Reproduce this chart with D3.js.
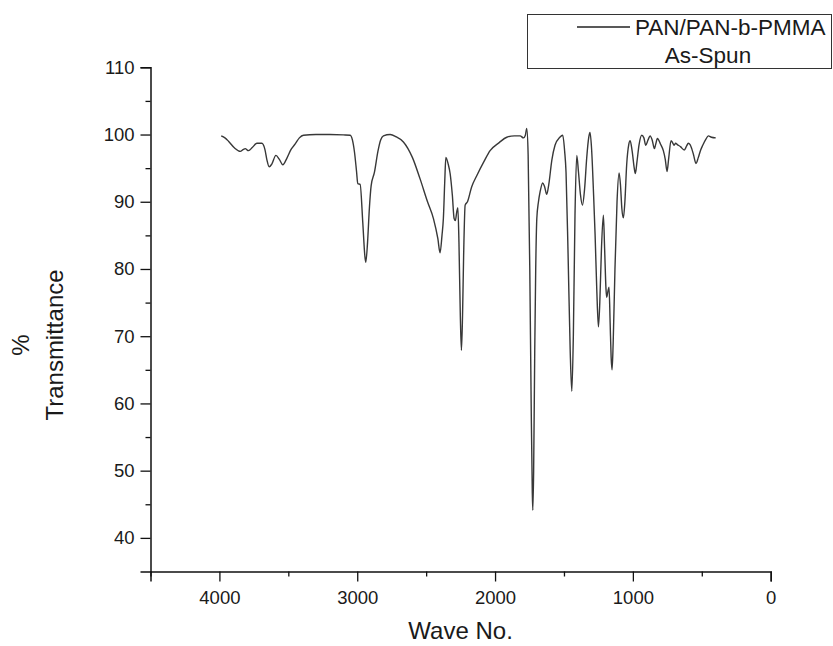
<!DOCTYPE html>
<html>
<head>
<meta charset="utf-8">
<script src="https://cdn.jsdelivr.net/npm/d3@7"></script>
<style>
  html, body { margin: 0; padding: 0; background: #fff; }
  svg { display: block; font-family: "Liberation Sans", Arial, sans-serif; }
</style>
</head>
<body>
<svg id="chart" width="833" height="646"></svg>
<script>
// FTIR spectrum: wavenumber (cm-1) and % transmittance
const waveNumbers = [3987,3960,3934,3890,3849,3825,3813,3789,3760,3728,3692,3670,3655,3639,3620,3590,3565,3540,3510,3480,3450,3420,3390,3300,3200,3100,3051,3035,3020,3005,2996,2979,2960,2945,2938,2925,2912,2899,2875,2850,2830,2810,2761,2720,2665,2600,2544,2490,2447,2415,2399,2385,2375,2365,2357,2340,2326,2310,2297,2288,2278,2270,2262,2252,2244,2236,2228,2217,2200,2170,2132,2080,2036,1970,1915,1860,1818,1794,1780,1770,1760,1748,1738,1730,1726,1720,1712,1705,1697,1685,1673,1654,1640,1625,1610,1588,1565,1530,1509,1495,1485,1470,1455,1443,1432,1420,1407,1395,1380,1366,1350,1335,1320,1311,1300,1285,1274,1262,1250,1240,1228,1214,1205,1195,1190,1180,1173,1165,1158,1151,1143,1130,1115,1100,1090,1080,1069,1058,1045,1030,1020,1005,990,982,970,955,936,920,907,890,875,860,844,835,822,800,779,765,752,740,723,712,701,690,677,655,627,610,598,585,573,560,542,525,510,493,470,453,430,399];
const transmittance = [99.8,99.5,99.0,98.0,97.5,97.8,97.9,97.6,98.1,98.7,98.7,97.8,96.2,95.2,95.6,96.9,96.3,95.5,96.5,97.8,98.6,99.5,99.9,100.0,100.0,99.95,99.9,99.2,97.4,94.5,92.7,92.6,87.0,82.0,81.0,84.0,89.0,92.4,94.4,97.5,99.2,99.8,100.0,99.7,98.9,96.6,93.4,90.0,87.5,84.5,82.4,85.0,87.5,93.0,96.6,95.6,94.2,91.0,87.5,87.2,88.5,89.1,84.0,73.0,67.9,73.0,82.0,89.5,90.0,92.2,93.9,96.0,97.6,98.8,99.6,99.8,99.8,99.5,99.9,100.9,97.0,80.0,60.0,47.0,44.1,50.0,68.0,80.0,87.5,90.0,91.5,92.8,92.2,91.1,92.6,96.2,98.4,99.6,99.9,97.5,94.4,82.0,68.0,61.8,70.0,88.0,96.9,94.5,91.0,89.5,92.0,96.5,99.6,100.3,98.0,91.0,85.0,77.0,71.4,75.0,83.0,88.0,83.0,77.0,75.8,76.8,77.3,72.0,67.0,65.0,69.0,80.0,90.0,94.3,92.5,89.0,87.6,90.0,95.5,98.5,99.1,97.5,95.0,94.2,96.0,98.5,99.9,99.5,98.4,99.2,99.8,99.2,97.9,98.5,99.4,98.6,97.6,96.3,94.5,96.5,99.1,98.8,98.4,98.7,98.5,98.2,97.7,98.3,98.7,98.5,97.9,97.0,95.7,96.6,97.6,98.4,99.3,99.8,99.6,99.5];

const xMajorTicks = [4000, 3000, 2000, 1000, 0];
const xMinorTicks = [4500, 3500, 2500, 1500, 500];
const yMajorTicks = [40, 50, 60, 70, 80, 90, 100, 110];
const yMinorTicks = [45, 55, 65, 75, 85, 95, 105];

const seriesName = "PAN/PAN-b-PMMA";
const seriesNote = "As-Spun";
const xTitle = "Wave No.";
const yTitleTop = "%";
const yTitle = "Transmittance";

const svg = d3.select("#chart");
const plot = { left: 150.5, right: 770.7, top: 67.3, bottom: 571.5 };

const x = d3.scaleLinear().domain([4500, 0]).range([plot.left, plot.right]);
const y = d3.scaleLinear().domain([35, 110]).range([plot.bottom, plot.top]);

const points = waveNumbers.map((w, i) => ({ w, t: transmittance[i] }));

// spectrum trace
svg.append("path")
  .datum(points)
  .attr("fill", "none")
  .attr("stroke", "#383838")
  .attr("stroke-width", 1.4)
  .attr("stroke-linejoin", "round")
  .attr("d", d3.line().x(d => x(d.w)).y(d => y(d.t)).curve(d3.curveMonotoneX));

// x axis: major ticks with labels, minor ticks without
const xAxis = svg.append("g").attr("transform", `translate(0,${plot.bottom})`);
xAxis.call(d3.axisBottom(x).tickValues(xMajorTicks).tickSize(10).tickPadding(9).tickFormat(d3.format("d")));
xAxis.append("g").call(d3.axisBottom(x).tickValues(xMinorTicks).tickSize(5).tickFormat(""))
  .select(".domain").remove();

// y axis
const yAxis = svg.append("g").attr("transform", `translate(${plot.left},0)`);
yAxis.call(d3.axisLeft(y).tickValues(yMajorTicks).tickSize(10).tickPadding(6).tickFormat(d3.format("d")));
yAxis.append("g").call(d3.axisLeft(y).tickValues(yMinorTicks).tickSize(5).tickFormat(""))
  .select(".domain").remove();

svg.selectAll(".domain").attr("stroke", "#111").attr("stroke-width", 1.5);
svg.selectAll(".tick line").attr("stroke", "#111").attr("stroke-width", 1.3);
svg.selectAll(".tick text")
  .attr("font-family", "'Liberation Sans', Arial, sans-serif")
  .attr("font-size", 18.5)
  .attr("fill", "#1a1a1a");

// axis titles
svg.append("text")
  .attr("x", (plot.left + plot.right) / 2)
  .attr("y", 639)
  .attr("text-anchor", "middle")
  .attr("font-size", 24)
  .attr("fill", "#1a1a1a")
  .text(xTitle);

svg.append("text")
  .attr("transform", "translate(29,345) rotate(-90)")
  .attr("text-anchor", "middle")
  .attr("font-size", 24)
  .attr("fill", "#1a1a1a")
  .text(yTitleTop);

svg.append("text")
  .attr("transform", "translate(63,345) rotate(-90)")
  .attr("text-anchor", "middle")
  .attr("font-size", 24)
  .attr("fill", "#1a1a1a")
  .text(yTitle);

// legend
const legend = svg.append("g");
legend.append("rect")
  .attr("x", 527.5).attr("y", 14.5)
  .attr("width", 304).attr("height", 54)
  .attr("fill", "#fff")
  .attr("stroke", "#333")
  .attr("stroke-width", 1);
legend.append("line")
  .attr("x1", 577).attr("x2", 630)
  .attr("y1", 27).attr("y2", 27)
  .attr("stroke", "#222").attr("stroke-width", 1.3);
legend.append("text")
  .attr("x", 635).attr("y", 35)
  .attr("font-size", 22.5)
  .attr("fill", "#1a1a1a")
  .text(seriesName);
legend.append("text")
  .attr("x", 708).attr("y", 63)
  .attr("text-anchor", "middle")
  .attr("font-size", 22.5)
  .attr("fill", "#1a1a1a")
  .text(seriesNote);
</script>
</body>
</html>
